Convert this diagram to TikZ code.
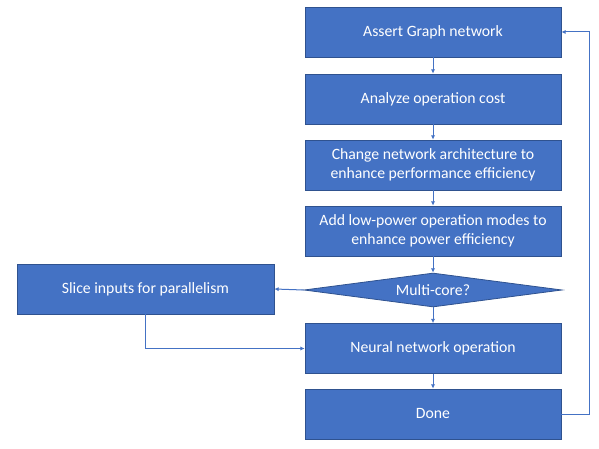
\documentclass[tikz,border=0pt]{standalone}
\usepackage{fontspec}
\setmainfont{Carlito}
\usetikzlibrary{arrows.meta,shapes.geometric}
\definecolor{stepFill}{RGB}{68,114,196}
\definecolor{stepDraw}{RGB}{47,82,143}
\definecolor{linkBlue}{RGB}{68,114,196}

\begin{document}
\begin{tikzpicture}[
  x=0.75pt, y=-0.75pt,
  font=\fontsize{11.8}{14.5}\selectfont,
  stepbox/.style={rectangle, draw=stepDraw, fill=stepFill, line width=0.6pt,
    text=white, align=center, minimum width=192pt, minimum height=37.5pt, inner sep=2pt},
  decision/.style={diamond, draw=stepDraw, fill=stepFill, line width=0.6pt,
    text=white, shape aspect=7.6, minimum width=193.5pt, minimum height=25.5pt, inner sep=0pt},
  link/.style={draw=linkBlue, line width=0.75pt, -{Latex[length=3.2pt, width=3.2pt]}}
]
\useasboundingbox (0,0) rectangle (599,449);

% Main column of steps.
\node[stepbox] (assert) at (433,32) {Assert Graph network};
\node[stepbox] (analyze) at (433,99) {Analyze operation cost};
\node[stepbox] (arch) at (433,165) {Change network architecture to\\enhance performance efficiency};
\node[stepbox] (power) at (433,231) {Add low-power operation modes to\\enhance power efficiency};
\node[decision] (multi) at (433,290) {Multi-core?};
\node[stepbox] (neural) at (433,348.5) {Neural network operation};
\node[stepbox] (done) at (433,414) {Done};

% Side branch.
\node[stepbox, minimum width=192.75pt] (slice) at (145.5,289) {Slice inputs for parallelism};

% Flow between steps.
\draw[link] (assert) -- (analyze);
\draw[link] (analyze) -- (arch);
\draw[link] (arch) -- (power);
\draw[link] (power) -- (multi);
\draw[link] (multi) -- (neural);
\draw[link] (neural) -- (done);
\draw[link] (multi.west) -- (slice.east);
\draw[link] (slice.south) |- (neural.west);

% Loop back to the top.
\coordinate (loopback) at (589,414);
\draw[link] (done.east) -- (loopback) |- (assert.east);

\end{tikzpicture}
\end{document}
